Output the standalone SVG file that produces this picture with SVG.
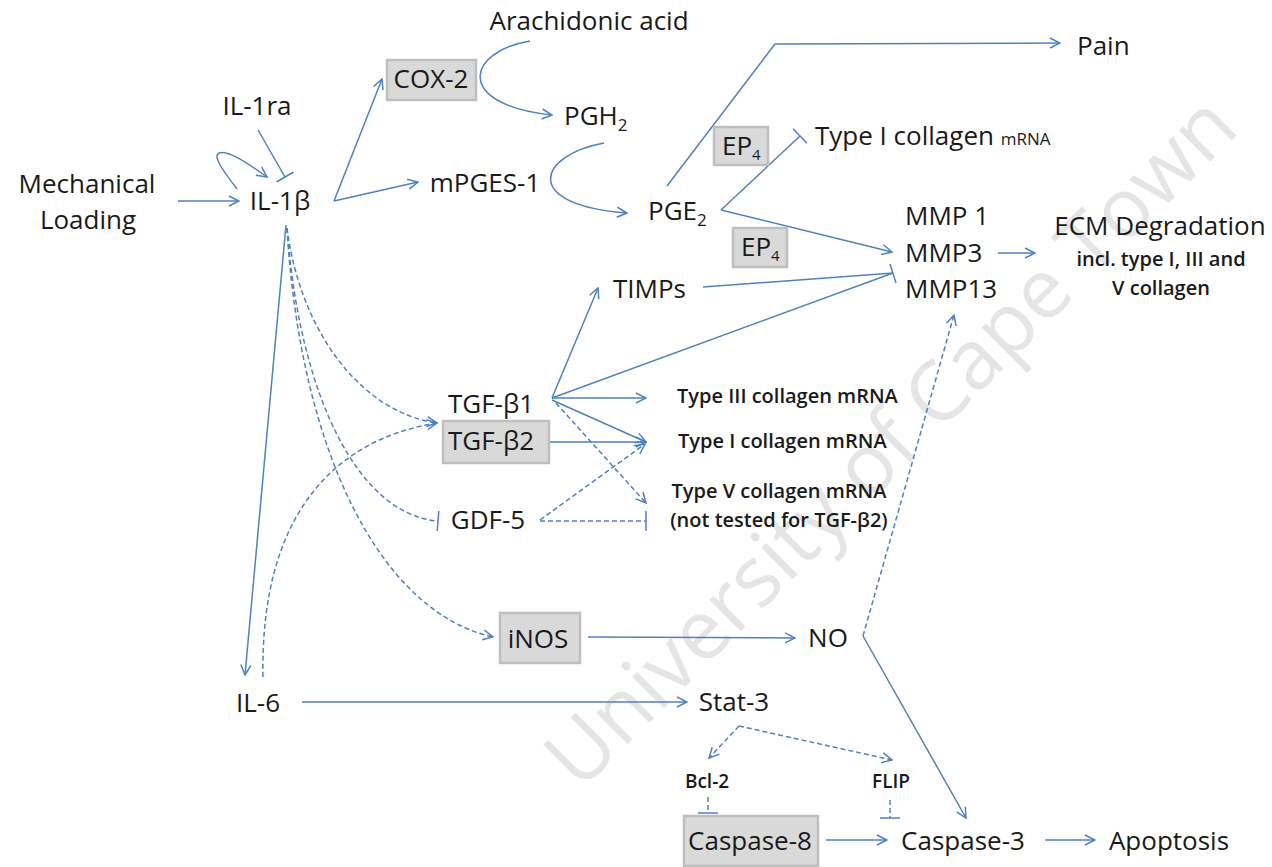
<svg xmlns="http://www.w3.org/2000/svg" width="1272" height="867" viewBox="0 0 1272 867">
<style>
.t{font-family:"Open Sans","Liberation Sans",sans-serif;font-size:26px;fill:#1a1a1a}
.m{text-anchor:middle}
.s{font-size:20px;font-weight:600}
.sm{font-size:19px;font-weight:600}
.box{fill:#d9d9d9;stroke:#bfbfbf;stroke-width:2.5}
.c{fill:none;stroke:#4f81bd;stroke-width:1.5}
.d{stroke-dasharray:5 3}
.a{marker-end:url(#arr)}
.i{marker-end:url(#bar)}
.wm{font-family:"Open Sans","Liberation Sans",sans-serif;font-size:83px;fill:#e5e5e5}
</style>
<defs>
<marker id="arr" viewBox="0 0 12 12" refX="11" refY="6" markerWidth="12" markerHeight="12" markerUnits="userSpaceOnUse" orient="auto">
<path d="M1,1 L11,6 L1,11" fill="none" stroke="#4f81bd" stroke-width="1.5"/>
</marker>
<marker id="bar" viewBox="0 0 4 20" refX="2" refY="10" markerWidth="4" markerHeight="20" markerUnits="userSpaceOnUse" orient="auto">
<path d="M2,0 L2,20" fill="none" stroke="#4f81bd" stroke-width="1.5"/>
</marker>
</defs>
<rect width="1272" height="867" fill="#ffffff"/>
<text class="wm" transform="translate(580,792) rotate(-45)">University of Cape Town</text>

<g id="connectors">
<path class="c a" d="M178,201 L239,201"/>
<path class="c a" d="M237,189 C224,172 212,156 219,153 C228,149 250,165 267,177"/>
<path class="c i" d="M258,130 L285,177"/>
<path class="c a" d="M334,201 L382,79"/>
<path class="c a" d="M334,201 L418,182"/>
<path class="c a" d="M530,41 C465,52 455,105 552,115"/>
<path class="c a" d="M604,143 C538,155 520,205 627,213"/>
<path class="c a" d="M667,186 L775,44 L1060,43"/>
<path class="c i" d="M721,210 L800,136"/>
<path class="c a" d="M721,210 L892,252"/>
<path class="c" d="M703,287 L893,273"/>
<path class="c" d="M552,398 L893,273"/>
<path class="c" d="M890,264 L896,283"/>
<path class="c a" d="M552,398 L598,288"/>
<path class="c a" d="M552,398 L646,398"/>
<path class="c a" d="M552,400 L646,442"/>
<path class="c a" d="M548,442 L646,442"/>
<path class="c d a" d="M556,403 L646,503"/>
<path class="c d a" d="M540,520 L645,444"/>
<path class="c d i" d="M540,521 L646,521"/>
<path class="c a" d="M286,225 L245,675"/>
<path class="c d a" d="M287,228 C300,330 360,412 437,423"/>
<path class="c d i" d="M287,228 C300,400 360,515 438,521"/>
<path class="c d a" d="M287,228 C300,450 380,612 493,637"/>
<path class="c d a" d="M263,677 C260,520 330,440 437,423"/>
<path class="c a" d="M302,702 L687,702"/>
<path class="c a" d="M588,637 L795,638"/>
<path class="c d a" d="M863,636 L954,315"/>
<path class="c a" d="M863,636 L966,818"/>
<path class="c d a" d="M739,726 L709,758"/>
<path class="c d a" d="M739,726 L892,760"/>
<path class="c d i" d="M708,797 L708,813"/>
<path class="c d i" d="M890,800 L890,818"/>
<path class="c a" d="M826,840 L887,840"/>
<path class="c a" d="M1045,840 L1095,840"/>
<path class="c a" d="M998,253 L1035,253"/>
</g>

<g id="mechanical-loading"><text class="t m" x="87" y="193">Mechanical</text><text class="t m" x="88" y="229">Loading</text></g>
<g id="il1ra"><text class="t m" x="257" y="115">IL-1ra</text></g>
<g id="il1b"><text class="t m" x="280" y="210">IL-1β</text></g>
<g id="cox2"><rect class="box" x="387" y="60" width="89" height="40"/><text class="t m" x="431" y="88">COX-2</text></g>
<g id="arachidonic"><text class="t m" x="589" y="30">Arachidonic acid</text></g>
<g id="pgh2"><text class="t" x="564" y="125">PGH<tspan font-size="17" dy="6">2</tspan></text></g>
<g id="mpges1"><text class="t m" x="485" y="192">mPGES-1</text></g>
<g id="pge2"><text class="t" x="648" y="220">PGE<tspan font-size="17" dy="6">2</tspan></text></g>
<g id="ep4a"><rect class="box" x="714" y="127" width="54" height="38"/><text class="t" x="722" y="155" font-size="22">EP<tspan font-size="15" dy="5">4</tspan></text></g>
<g id="ep4b"><rect class="box" x="733" y="228" width="54" height="39"/><text class="t" x="741" y="256" font-size="22">EP<tspan font-size="15" dy="5">4</tspan></text></g>
<g id="pain"><text class="t" x="1077" y="55">Pain</text></g>
<g id="col1-pge"><text class="t" x="815" y="145">Type I collagen <tspan font-size="17">mRNA</tspan></text></g>
<g id="mmps"><text class="t" x="905" y="225">MMP 1</text><text class="t" x="905" y="262">MMP3</text><text class="t" x="905" y="298">MMP13</text></g>
<g id="ecm"><text class="t m" x="1160" y="235">ECM Degradation</text><text class="t s m" x="1161" y="266">incl. type I, III and</text><text class="t s m" x="1161" y="295">V collagen</text></g>
<g id="timps"><text class="t" x="613" y="298">TIMPs</text></g>
<g id="tgfb1"><text class="t m" x="491" y="413">TGF-β1</text></g>
<g id="tgfb2"><rect class="box" x="443" y="421" width="106" height="42"/><text class="t m" x="491" y="450">TGF-β2</text></g>
<g id="gdf5"><text class="t m" x="488" y="529">GDF-5</text></g>
<g id="col3"><text class="t s" x="677" y="403">Type III collagen mRNA</text></g>
<g id="col1"><text class="t s" x="678" y="448">Type I collagen mRNA</text></g>
<g id="col5"><text class="t s m" x="779" y="498">Type V collagen mRNA</text><text class="t s m" x="779" y="527">(not tested for TGF-β2)</text></g>
<g id="inos"><rect class="box" x="500" y="613" width="80" height="50"/><text class="t m" x="538" y="648">iNOS</text></g>
<g id="no"><text class="t m" x="828" y="647">NO</text></g>
<g id="il6"><text class="t m" x="258" y="712">IL-6</text></g>
<g id="stat3"><text class="t m" x="734" y="711">Stat-3</text></g>
<g id="bcl2"><text class="t sm m" x="707" y="788">Bcl-2</text></g>
<g id="flip"><text class="t sm m" x="891" y="788">FLIP</text></g>
<g id="caspase8"><rect class="box" x="684" y="816" width="134" height="50"/><text class="t m" x="750" y="850">Caspase-8</text></g>
<g id="caspase3"><text class="t m" x="963" y="850">Caspase-3</text></g>
<g id="apoptosis"><text class="t m" x="1169" y="850">Apoptosis</text></g>
</svg>
